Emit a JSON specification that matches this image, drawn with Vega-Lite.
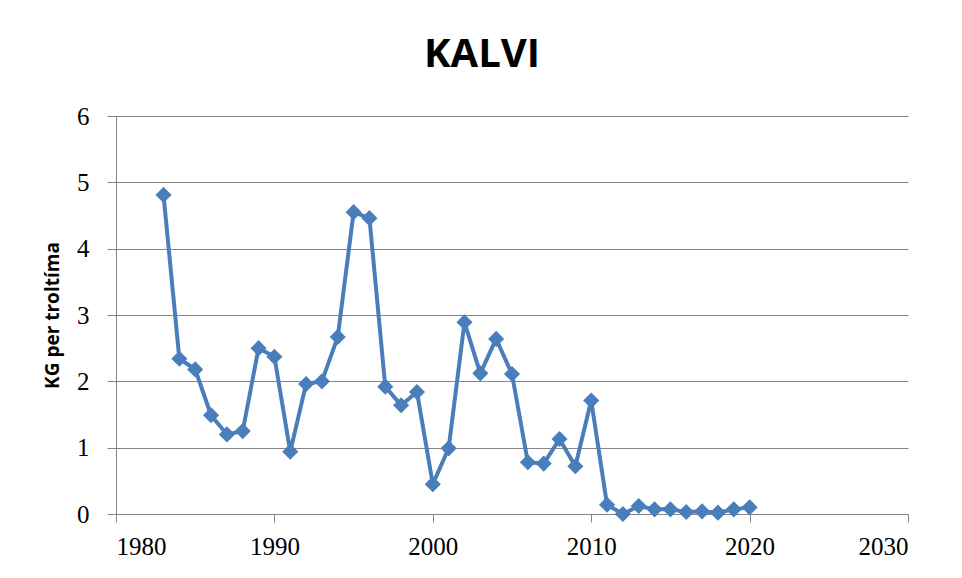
{
  "$schema": "https://vega.github.io/schema/vega-lite/v6.json",
  "autosize": "none",
  "width": 792,
  "height": 398,
  "padding": {"left": 116, "top": 116, "right": 54, "bottom": 64},
  "background": "white",
  "title": {
    "text": "KALVI",
    "fontSize": 40,
    "font": "Open Sans",
    "fontWeight": "bold",
    "color": "black",
    "anchor": "middle",
    "dx": -30,
    "offset": 29
  },
  "data": {
    "values": [
      {"year": 1983, "kg": 4.81},
      {"year": 1984, "kg": 2.34},
      {"year": 1985, "kg": 2.18},
      {"year": 1986, "kg": 1.49},
      {"year": 1987, "kg": 1.2},
      {"year": 1988, "kg": 1.25},
      {"year": 1989, "kg": 2.5},
      {"year": 1990, "kg": 2.37},
      {"year": 1991, "kg": 0.94},
      {"year": 1992, "kg": 1.96},
      {"year": 1993, "kg": 2.0},
      {"year": 1994, "kg": 2.67},
      {"year": 1995, "kg": 4.55},
      {"year": 1996, "kg": 4.46},
      {"year": 1997, "kg": 1.92},
      {"year": 1998, "kg": 1.64},
      {"year": 1999, "kg": 1.84},
      {"year": 2000, "kg": 0.45},
      {"year": 2001, "kg": 0.99},
      {"year": 2002, "kg": 2.89},
      {"year": 2003, "kg": 2.12},
      {"year": 2004, "kg": 2.64},
      {"year": 2005, "kg": 2.11},
      {"year": 2006, "kg": 0.78},
      {"year": 2007, "kg": 0.76},
      {"year": 2008, "kg": 1.13},
      {"year": 2009, "kg": 0.72},
      {"year": 2010, "kg": 1.71},
      {"year": 2011, "kg": 0.14},
      {"year": 2012, "kg": 0.0},
      {"year": 2013, "kg": 0.12},
      {"year": 2014, "kg": 0.07},
      {"year": 2015, "kg": 0.07},
      {"year": 2016, "kg": 0.03},
      {"year": 2017, "kg": 0.04},
      {"year": 2018, "kg": 0.02},
      {"year": 2019, "kg": 0.07},
      {"year": 2020, "kg": 0.1}
    ]
  },
  "encoding": {
    "x": {
      "field": "year",
      "type": "quantitative",
      "scale": {"domain": [1980, 2030], "nice": false, "zero": false},
      "axis": {
        "title": null,
        "values": [1980, 1990, 2000, 2010, 2020, 2030],
        "format": "d",
        "grid": false,
        "domainColor": "#868686",
        "tickColor": "#868686",
        "tickSize": 8,
        "labelFontSize": 25,
        "labelFont": "Liberation Serif",
        "labelColor": "black",
        "labelPadding": 12
      }
    },
    "y": {
      "field": "kg",
      "type": "quantitative",
      "scale": {"domain": [0, 6], "nice": false},
      "axis": {
        "title": "KG per troltíma",
        "titleFontSize": 19,
        "titleFont": "Open Sans",
        "titleFontWeight": "bold",
        "titleColor": "black",
        "titlePadding": 14,
        "values": [0, 1, 2, 3, 4, 5, 6],
        "gridColor": "#868686",
        "gridWidth": 1,
        "domainColor": "#868686",
        "tickColor": "#868686",
        "tickSize": 9,
        "labelFontSize": 25,
        "labelFont": "Liberation Serif",
        "labelColor": "black",
        "labelPadding": 18
      }
    }
  },
  "layer": [
    {"mark": {"type": "line", "color": "#4a7ebb", "strokeWidth": 4}},
    {"mark": {"type": "point", "shape": "diamond", "filled": true, "color": "#4a7ebb", "opacity": 1, "size": 260}}
  ],
  "config": {"view": {"stroke": null}}
}
